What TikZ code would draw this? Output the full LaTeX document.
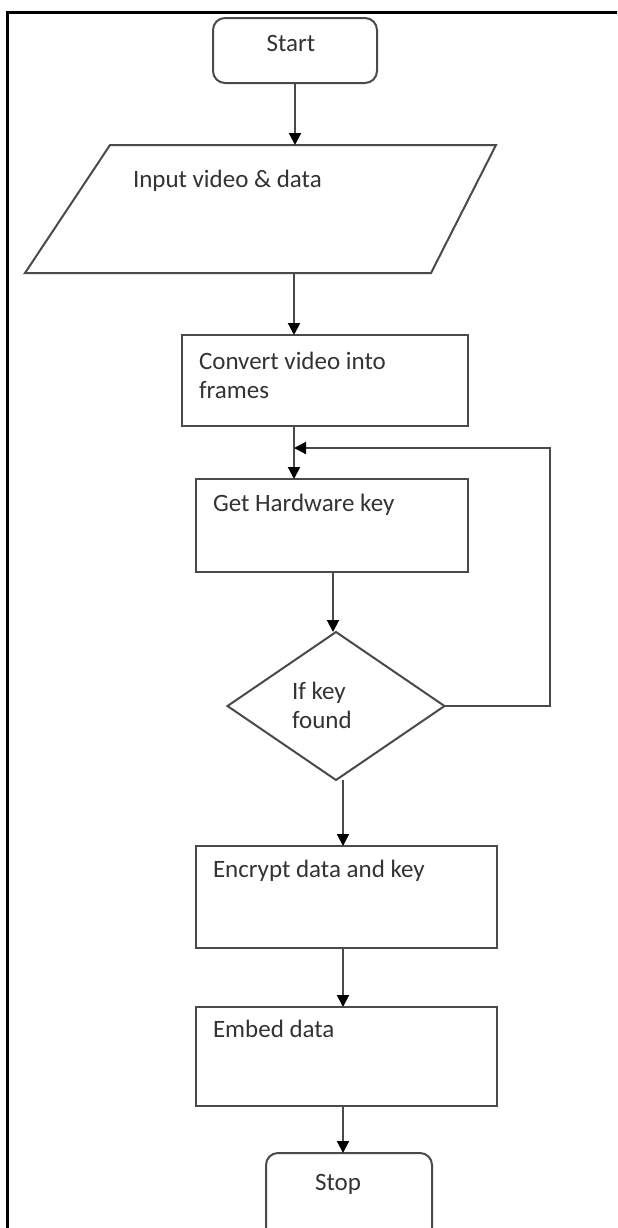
\documentclass[tikz,border=0pt]{standalone}
\usepackage{fontspec}
\setmainfont{Carlito}
\usetikzlibrary{arrows.meta,shapes.geometric}
\definecolor{linegray}{HTML}{4A4A4A}
\definecolor{textgray}{HTML}{333333}
\begin{document}
\begin{tikzpicture}[x=0.5pt,y=-0.5pt,
  line/.style={draw=linegray,line width=1pt},
  flow/.style={line,-{Triangle[length=6pt,width=6pt,color=black]}},
  box/.style={line,rectangle,inner sep=0pt,outer sep=0pt},
  term/.style={box,rounded corners=6pt},
  txt/.style={text=textgray,inner sep=0pt,outer sep=0pt,
    font=\fontsize{12.5}{14.5}\selectfont,align=left}
]
\useasboundingbox (0,0) rectangle (617,1228);
\clip (0,0) rectangle (617,1228);
\fill[white] (0,0) rectangle (617,1228);

% outer frame (only the top and left sides fall inside the page)
\draw[black,line width=1.5pt] (7,12.7) rectangle (700,1300);

% terminals and process boxes
\node[term,minimum width=82pt,minimum height=32.5pt] (start) at (295,50.5) {};
\node[box,minimum width=143pt,minimum height=45.5pt] (convert) at (325,380.5) {};
\node[box,minimum width=136pt,minimum height=46.5pt] (hw) at (332,525.5) {};
\node[line,diamond,inner sep=0pt,outer sep=0pt,
      minimum width=108.5pt,minimum height=74pt] (dec) at (336,706) {};
\node[box,minimum width=150.5pt,minimum height=51pt] (enc) at (346.5,897) {};
\node[box,minimum width=150.5pt,minimum height=49.5pt] (emb) at (346.5,1056.5) {};
\node[term,minimum width=83pt,minimum height=45pt] (stop) at (349,1198) {};

% input parallelogram
\draw[line,line join=miter] (110,145) -- (496,145) -- (431,273) -- (25,273) -- cycle;
\coordinate (in-n) at (295,145);
\coordinate (in-s) at (294,273);

% labels (base anchors of two-line labels sit on the last line)
\node[txt,anchor=base] (start-t) at (291,51) {Start};
\node[txt,anchor=base west] (input-t) at (133,187) {Input video \& data};
\node[txt,anchor=base west] (convert-t) at (199,398) {Convert video into\\frames};
\node[txt,anchor=base west] (hw-t) at (213,511) {Get Hardware key};
\node[txt,anchor=base west] (dec-t) at (292,728) {If key\\found};
\node[txt,anchor=base west] (enc-t) at (213,877) {Encrypt data and key};
\node[txt,anchor=base west] (emb-t) at (213,1037) {Embed data};
\node[txt,anchor=base] (stop-t) at (338,1190) {Stop};

% helper points for the connectors
\coordinate (xa) at (294,0);
\coordinate (xb) at (333,0);
\coordinate (xc) at (343,0);
\coordinate (loop) at (550,448);
\coordinate (join) at (294,448);

% connectors
\draw[flow] (start.south) -- (in-n);
\draw[flow] (in-s) -- (convert.north -| xa);
\draw[flow] (convert.south -| xa) -- (hw.north -| xa);
\draw[flow] (hw.south -| xb) -- (dec.north -| xb);
\draw[flow] (dec.east) -| (loop) -- (join);
\draw[flow] (dec.south -| xc) -- (enc.north -| xc);
\draw[flow] (enc.south -| xc) -- (emb.north -| xc);
\draw[flow] (emb.south -| xc) -- (stop.north -| xc);
\end{tikzpicture}
\end{document}
